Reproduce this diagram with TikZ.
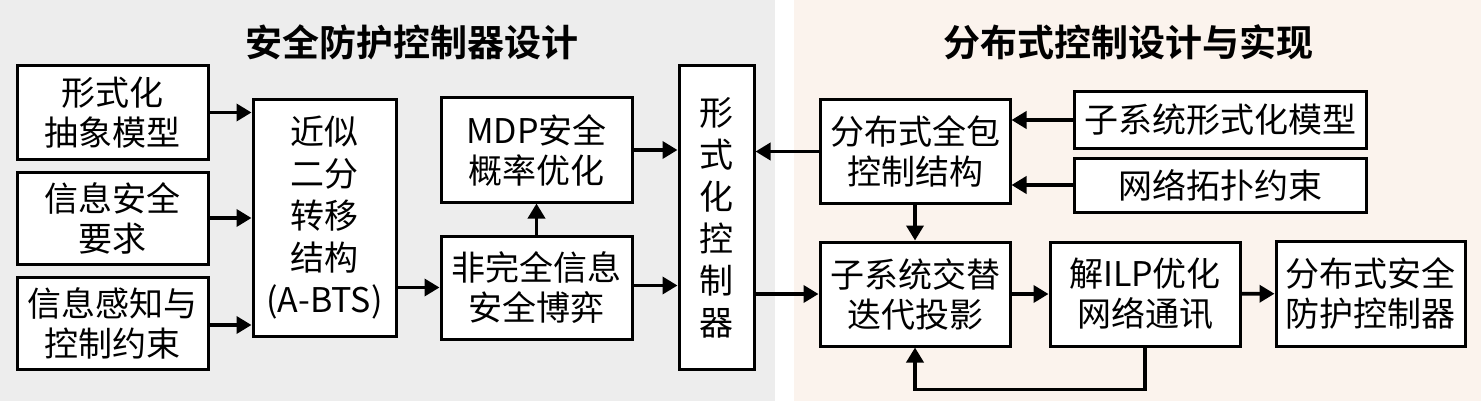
\documentclass[tikz,border=0pt]{standalone}
\usepackage{fontspec}
\setmainfont{Noto Sans CJK SC}[BoldFont={Noto Sans CJK SC Bold}]
\usepackage{tikz}
\usetikzlibrary{arrows.meta,positioning}
\definecolor{leftbg}{RGB}{237,237,237}
\definecolor{rightbg}{RGB}{251,243,237}

\begin{document}
\begin{tikzpicture}[
    x=0.5pt, y=-0.5pt,
    >={Triangle[length=7.5pt,width=8.5pt]},
    font=\fontsize{17}{20}\selectfont,
    block/.style={
		rectangle,
		draw=black,
		line width=1.5pt,
		inner sep=0pt,
		align=center,
		fill=white
	},
	flow/.style={
		->,
		line width=1.8pt
	},
	title/.style={
		font=\fontsize{18.5}{22}\selectfont\bfseries
	}
  ]
    % backgrounds of the two parts
  \fill[white] (0,0) rectangle (1481,401);
  \fill[leftbg] (0,0) rectangle (775,401);
  \fill[rightbg] (794,0) rectangle (1481,401);
  \useasboundingbox (0,0) rectangle (1481,401);

  \node [title] (lefttitle) at (412,42) {安全防护控制器设计};
  \node [title] (righttitle) at (1128,42) {分布式控制设计与实现};

    % We start by placing the blocks
  \node [block, minimum width=95.5pt, minimum height=46.5pt] (absmodel) at (112.5,112.5) {形式化\\抽象模型};
  \node [block, minimum width=95.5pt, minimum height=46pt] (secreq) at (112.5,218) {信息安全\\要求};
  \node [block, minimum width=95.5pt, minimum height=46pt] (sensecon) at (112.5,323) {信息感知与\\控制约束};
  \node [block, minimum width=71.5pt, minimum height=118pt,
         font=\fontsize{17}{21}\selectfont] (abts) at (324.5,218)
 {近似\\二分\\转移\\结构\\(A-BTS)};
  \node [block, minimum width=95.5pt, minimum height=52pt] (mdp) at (536.5,150) {MDP安全\\概率优化};
  \node [block, minimum width=95.5pt, minimum height=51.5pt] (game) at (536.5,287.5) {非完全信息\\安全博弈};
  \node [block, minimum width=37.5pt, minimum height=151.5pt,
         font=\fontsize{17}{21}\selectfont] (ctrl) at (716.5,217.5)
 {形\\式\\化\\控\\制\\器};

  \node [block, minimum width=95pt, minimum height=51.5pt] (dstruct) at (915,151.5) {分布式全包\\控制结构};
  \node [block, minimum width=146pt, minimum height=28pt] (submodel) at (1220,120) {子系统形式化模型};
  \node [block, minimum width=146pt, minimum height=27pt] (topo) at (1220,185) {网络拓扑约束};
  \node [block, minimum width=95pt, minimum height=52pt] (iterproj) at (915,294) {子系统交替\\迭代投影};
  \node [block, minimum width=95pt, minimum height=52pt] (ilp) at (1145,294) {解ILP优化\\网络通讯};
  \node [block, minimum width=94.5pt, minimum height=52.5pt] (dctrl) at (1370.5,293.5) {分布式安全\\防护控制器};

    % arrows of the left part
  \draw [flow] (absmodel.east) -- (absmodel.east -| abts.west);
  \draw [flow] (secreq.east) -- (secreq.east -| abts.west);
  \draw [flow] ([yshift=-1pt]sensecon.east) -- ([yshift=-1pt]sensecon.east -| abts.west);
  \draw [flow] (abts.east |- game) -- (game.west);
  \draw [flow] (game) -- (mdp);
  \draw [flow] (mdp.east) -- (mdp.east -| ctrl.west);
  \draw [flow] ([yshift=1pt]game.east) -- ([yshift=1pt]game.east -| ctrl.west);

    % arrows of the right part
  \draw [flow] (dstruct.west) -- (dstruct.west -| ctrl.east);
  \draw [flow] (submodel.west) -- (submodel.west -| dstruct.east);
  \draw [flow] (topo.west) -- (topo.west -| dstruct.east);
  \draw [flow] (dstruct) -- (iterproj);
  \draw [flow] (ctrl.east |- iterproj) -- (iterproj.west);
  \draw [flow] (iterproj) -- (ilp);
  \draw [flow] (ilp) -- (dctrl);
  \draw [flow] (ilp.south) -- ++(0,42) -| (iterproj.south);

\end{tikzpicture}
\end{document}
